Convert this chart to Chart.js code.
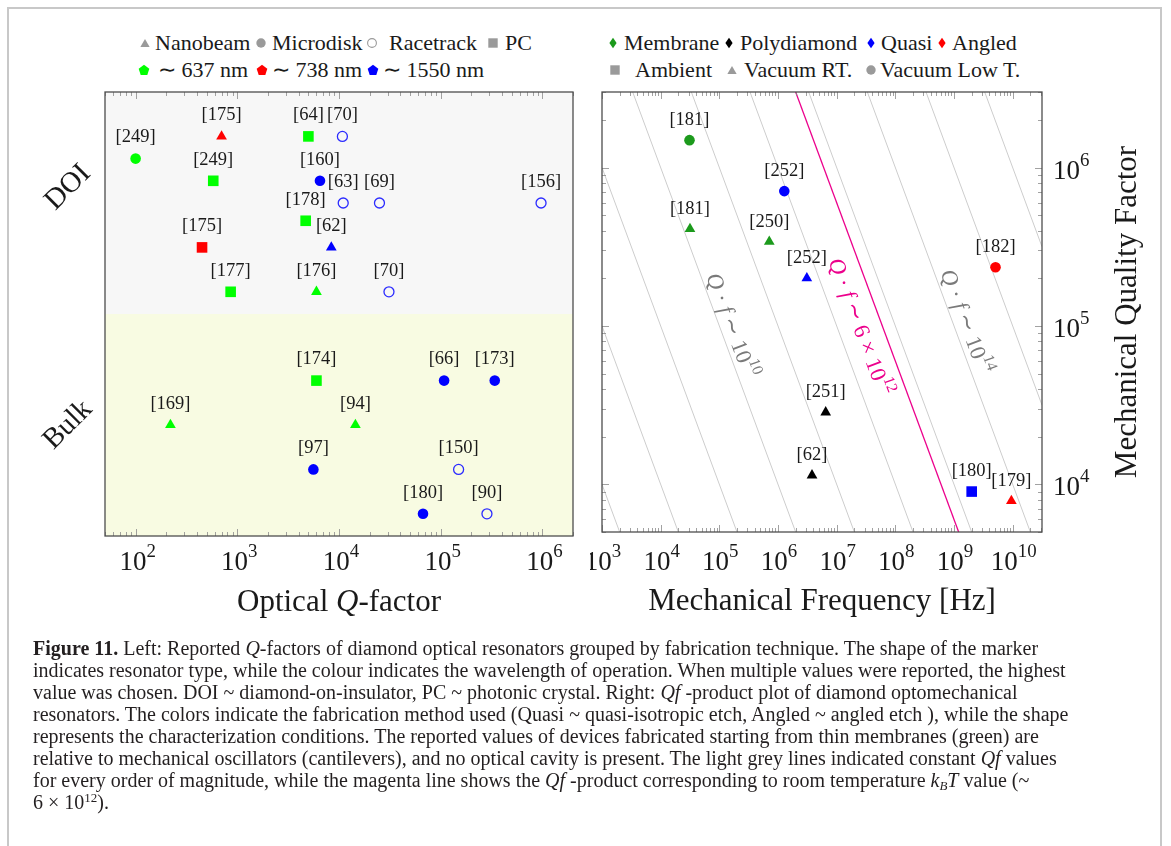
<!DOCTYPE html>
<html>
<head>
<meta charset="utf-8">
<script src="https://cdn.jsdelivr.net/npm/chart.js@4.4.0/dist/chart.umd.min.js"></script>
<style>
  html, body { margin: 0; padding: 0; background: #fff; }
  body { width: 1171px; height: 846px; position: relative; overflow: hidden;
         font-family: 'Liberation Serif', 'Times New Roman', serif; color: #1a1a1a; }
  #frame { position: absolute; left: 7px; top: 7px; width: 1155px; height: 900px;
           border: 2px solid #c8c8c8; box-sizing: border-box; }
  .lg { position: absolute; font-size: 22px; line-height: 26px; white-space: nowrap; color: #1a1a1a; }
  .mk { position: absolute; width: 14px; height: 14px; }
  #cvL { position: absolute; left: 0; top: 0; }
  #cvR { position: absolute; left: 590px; top: 0; }
  #caption { position: absolute; left: 33px; top: 637px; font-size: 20px; line-height: 22px;
             white-space: nowrap; color: #231f20; }
  #caption sub { font-size: 13px; vertical-align: -3px; line-height: 0; }
  #caption sup { font-size: 13px; vertical-align: 7px; line-height: 0; }
</style>
</head>
<body>
<div id="frame"></div>
<div id="legends"></div>
<canvas id="cvL" width="590" height="640"></canvas>
<canvas id="cvR" width="581" height="640"></canvas>
<div id="caption">
<b>Figure 11.</b> Left: Reported <i>Q</i>-factors of diamond optical resonators grouped by fabrication technique. The shape of the marker<br>
indicates resonator type, while the colour indicates the wavelength of operation. When multiple values were reported, the highest<br>
value was chosen. DOI ~ diamond-on-insulator, PC ~ photonic crystal. Right: <i>Qf</i> -product plot of diamond optomechanical<br>
resonators. The colors indicate the fabrication method used (Quasi ~ quasi-isotropic etch, Angled ~ angled etch ), while the shape<br>
represents the characterization conditions. The reported values of devices fabricated starting from thin membranes (green) are<br>
relative to mechanical oscillators (cantilevers), and no optical cavity is present. The light grey lines indicated constant <i>Qf</i> values<br>
for every order of magnitude, while the magenta line shows the <i>Qf</i> -product corresponding to room temperature <i>k<sub>B</sub>T</i> value (~<br>
6 × 10<sup>12</sup>).
</div>

<script>
// ================= Left panel: optical Q-factor of diamond resonators =================
const leftCategories = ['DOI', 'Bulk'];
const leftXTicks = [1e2, 1e3, 1e4, 1e5, 1e6];

// Nanobeam, ~738 nm
const nanobeam738Q   = [700];
const nanobeam738Row = [9.0];
const nanobeam738Ref = ['[175]'];
// Photonic crystal, ~637 nm
const pc637Q   = [5000, 580, 4700, 860, 6000];
const pc637Row = [9.0, 8.0, 7.1, 5.5, 3.5];
const pc637Ref = ['[64]', '[249]', '[178]', '[177]', '[174]'];
// Racetrack, ~1550 nm
const racetrack1550Q   = [1.08e4, 1.1e4, 2.5e4, 9.7e5, 3.1e4, 1.5e5, 2.85e5];
const racetrack1550Row = [9.0, 7.5, 7.5, 7.5, 5.5, 1.5, 0.5];
const racetrack1550Ref = ['[70]', '[63]', '[69]', '[156]', '[70]', '[150]', '[90]'];
// Microdisk, ~637 nm
const microdisk637Q   = [100];
const microdisk637Row = [8.5];
const microdisk637Ref = ['[249]'];
// Microdisk, ~1550 nm
const microdisk1550Q   = [6500, 1.08e5, 3.4e5, 5600, 6.7e4];
const microdisk1550Row = [8.0, 3.5, 3.5, 1.5, 0.5];
const microdisk1550Ref = ['[160]', '[66]', '[173]', '[97]', '[180]'];
// Photonic crystal, ~738 nm
const pc738Q   = [450];
const pc738Row = [6.5];
const pc738Ref = ['[175]'];
// Nanobeam, ~1550 nm
const nanobeam1550Q   = [8400];
const nanobeam1550Row = [6.5];
const nanobeam1550Ref = ['[62]'];
// Nanobeam, ~637 nm
const nanobeam637Q   = [6000, 220, 1.45e4];
const nanobeam637Row = [5.5, 2.5, 2.5];
const nanobeam637Ref = ['[176]', '[169]', '[94]'];

// ================= Right panel: Qf-product of optomechanical resonators =================
const rightXTicks = [1e3, 1e4, 1e5, 1e6, 1e7, 1e8, 1e9, 1e10];
const rightYTicks = [1e4, 1e5, 1e6];

const membraneLowTF = [3.1e4];        const membraneLowTQ = [1.49e6];      const membraneLowTRef = ['[181]'];
const membraneRTF   = [3.16e4, 7.1e5]; const membraneRTQ  = [4.1e5, 3.4e5]; const membraneRTRef  = ['[181]', '[250]'];
const quasiLowTF    = [1.28e6];       const quasiLowTQ    = [7.1e5];       const quasiLowTRef    = ['[252]'];
const quasiRTF      = [3.1e6];        const quasiRTQ      = [2.0e5];       const quasiRTRef      = ['[252]'];
const quasiAmbF     = [2.0e9];        const quasiAmbQ     = [9000];        const quasiAmbRef     = ['[180]'];
const angledLowTF   = [5.1e9];        const angledLowTQ   = [2.35e5];      const angledLowTRef   = ['[182]'];
const angledRTF     = [9.5e9];        const angledRTQ     = [7850];        const angledRTRef     = ['[179]'];
const polyRTF       = [6.5e6, 3.8e6]; const polyRTQ       = [2.85e4, 1.14e4]; const polyRTRef    = ['[251]', '[62]'];

// constant Qf guide lines (one per decade) and the room-temperature kBT/h value
const qfLevels = [1e7, 1e8, 1e9, 1e10, 1e11, 1e12, 1e13, 1e14, 1e15, 1e16];
const qfRoomT = 6e12;

// legend texts
const leftShapeNames = ['Nanobeam', 'Microdisk', 'Racetrack', 'PC'];
const leftWaveNames = ['∼ 637 nm', '∼ 738 nm', '∼ 1550 nm'];
const rightMethodNames = ['Membrane', 'Polydiamond', 'Quasi', 'Angled'];
const rightConditionNames = ['Ambient', 'Vacuum RT.', 'Vacuum Low T.'];

// ================= styling =================
const FONT = "'Liberation Serif','Times New Roman',serif";
const LIME = '#00ff00', RED = '#ff0000', BLUE = '#0000ff';
const DKGREEN = '#1c9a1c', BLACK = '#000000', GREY = '#9a9a9a';
const MAGENTA = '#ec008c';
const TICK_SIZE = 27, TITLE_SIZE = 31;
const SHAPES = {
  tri:  { pointStyle: 'triangle', pointRadius: 6.2 },
  circ: { pointStyle: 'circle',   pointRadius: 5.3 },
  rect: { pointStyle: 'rect',     pointRadius: 7.5 }
};

function markerSet(label, xs, ys, refs, shape, color, hollow) {
  return Object.assign({
    label, refs,
    data: xs.map((x, i) => ({ x, y: ys[i] })),
    backgroundColor: hollow ? 'rgba(0,0,0,0)' : color,
    borderColor: hollow ? '#2b2bff' : color,
    borderWidth: hollow ? 1.3 : 0,
    order: 1
  }, SHAPES[shape], hollow ? { pointRadius: 5.0 } : {});
}

// ---------- text helpers (mixed italic / superscript runs) ----------
function runFont(r, size) {
  const s = r.sup ? size * 0.7 : size;
  return (r.it ? 'italic ' : '') + s + 'px ' + FONT;
}
function runsWidth(ctx, runs, size) {
  let w = 0;
  for (const r of runs) { ctx.font = runFont(r, size); w += ctx.measureText(r.t).width; }
  return w;
}
function drawRuns(ctx, runs, x, y, size, align) {
  const total = runsWidth(ctx, runs, size);
  let cx = align === 'center' ? x - total / 2 : (align === 'right' ? x - total : x);
  ctx.textAlign = 'left';
  ctx.textBaseline = 'alphabetic';
  for (const r of runs) {
    ctx.font = runFont(r, size);
    ctx.fillText(r.t, cx, y + (r.sup ? -size * 0.48 : 0));
    cx += ctx.measureText(r.t).width;
  }
}
function powRuns(v) {
  return [{ t: '10' }, { t: String(Math.round(Math.log10(v))), sup: true }];
}
function logTicks(min, max) {
  const out = [];
  for (let e = Math.floor(Math.log10(min)); e <= Math.ceil(Math.log10(max)); e++) {
    for (let m = 1; m <= 9; m++) {
      const v = m * Math.pow(10, e);
      if (v >= min * 0.9999 && v <= max * 1.0001) out.push({ v, major: m === 1 });
    }
  }
  return out;
}
function drawFrame(ctx, a) {
  ctx.save();
  ctx.strokeStyle = '#4d4d4d';
  ctx.lineWidth = 1.3;
  ctx.strokeRect(a.left, a.top, a.right - a.left, a.bottom - a.top);
  ctx.restore();
}
function drawXTicks(ctx, scale, a) {
  ctx.save();
  ctx.strokeStyle = '#8a8a8a';
  ctx.lineWidth = 0.8;
  ctx.beginPath();
  for (const t of logTicks(scale.min, scale.max)) {
    const px = Math.round(scale.getPixelForValue(t.v)) + 0.5;
    const len = t.major ? 7 : 4;
    ctx.moveTo(px, a.bottom); ctx.lineTo(px, a.bottom - len);
    ctx.moveTo(px, a.top);    ctx.lineTo(px, a.top + len);
  }
  ctx.stroke();
  ctx.restore();
}
function drawYTicks(ctx, scale, a) {
  ctx.save();
  ctx.strokeStyle = '#8a8a8a';
  ctx.lineWidth = 0.8;
  ctx.beginPath();
  for (const t of logTicks(scale.min, scale.max)) {
    const py = Math.round(scale.getPixelForValue(t.v)) + 0.5;
    const len = t.major ? 7 : 4;
    ctx.moveTo(a.left, py);  ctx.lineTo(a.left + len, py);
    ctx.moveTo(a.right, py); ctx.lineTo(a.right - len, py);
  }
  ctx.stroke();
  ctx.restore();
}

// ---------- plugins ----------
const refLabels = {
  id: 'refLabels',
  afterDatasetsDraw(chart, args, opts) {
    const ctx = chart.ctx;
    ctx.save();
    ctx.fillStyle = '#1a1a1a';
    ctx.font = '18.5px ' + FONT;
    ctx.textAlign = 'center';
    ctx.textBaseline = 'middle';
    chart.data.datasets.forEach((ds, i) => {
      if (!ds.refs) return;
      chart.getDatasetMeta(i).data.forEach((el, j) => {
        ctx.fillText(ds.refs[j], el.x, el.y - opts.gap);
      });
    });
    ctx.restore();
  }
};

const leftBands = {
  id: 'leftBands',
  beforeDatasetsDraw(chart) {
    const { ctx, chartArea: a, scales: { y } } = chart;
    const mid = y.getPixelForValue(5);
    ctx.save();
    ctx.fillStyle = '#f7f7f7';
    ctx.fillRect(a.left, a.top, a.right - a.left, mid - a.top);
    ctx.fillStyle = '#f8fbe2';
    ctx.fillRect(a.left, mid, a.right - a.left, a.bottom - mid);
    ctx.restore();
  }
};

const leftAxes = {
  id: 'leftAxes',
  afterDraw(chart) {
    const { ctx, chartArea: a, scales: { x, y } } = chart;
    drawXTicks(ctx, x, a);
    drawFrame(ctx, a);
    ctx.save();
    ctx.fillStyle = '#1a1a1a';
    for (const v of leftXTicks) drawRuns(ctx, powRuns(v), x.getPixelForValue(v) + 2, 570, TICK_SIZE, 'center');
    drawRuns(ctx, [{ t: 'Optical ' }, { t: 'Q', it: true }, { t: '-factor' }], (a.left + a.right) / 2, 611, TITLE_SIZE, 'center');
    // rotated group labels
    const groupRows = { DOI: 7.85, Bulk: 2.5 };
    ctx.font = '29px ' + FONT;
    ctx.textAlign = 'center';
    ctx.textBaseline = 'middle';
    for (const name of leftCategories) {
      ctx.save();
      ctx.translate(a.left - 37, y.getPixelForValue(groupRows[name]));
      ctx.rotate(-Math.PI / 4);
      ctx.fillText(name, 0, 0);
      ctx.restore();
    }
    ctx.restore();
  }
};

const rightAxes = {
  id: 'rightAxes',
  afterDraw(chart) {
    const { ctx, chartArea: a, scales: { x, y } } = chart;
    drawXTicks(ctx, x, a);
    drawYTicks(ctx, y, a);
    drawFrame(ctx, a);
    ctx.save();
    ctx.fillStyle = '#1a1a1a';
    for (const v of rightXTicks) drawRuns(ctx, powRuns(v), x.getPixelForValue(v) + 1, 570, TICK_SIZE, 'center');
    for (const v of rightYTicks) drawRuns(ctx, powRuns(v), a.right + 11, y.getPixelForValue(v) + 11, TICK_SIZE, 'left');
    drawRuns(ctx, [{ t: 'Mechanical Frequency [Hz]' }], (a.left + a.right) / 2, 610, TITLE_SIZE, 'center');
    ctx.save();
    ctx.translate(a.right + 94, (a.top + a.bottom) / 2);
    ctx.rotate(-Math.PI / 2);
    drawRuns(ctx, [{ t: 'Mechanical Quality Factor' }], 0, 0, TITLE_SIZE, 'center');
    ctx.restore();
    ctx.restore();
  }
};

// labels written along the constant-Qf lines
const qfLabels = {
  id: 'qfLabels',
  afterDatasetsDraw(chart) {
    const { ctx, scales: { x, y } } = chart;
    const specs = [
      { C: 1e10, atQ: 9.5e4, d: 12, color: '#7a7a7a',
        runs: [{ t: 'Q', it: true }, { t: ' · ' }, { t: 'f', it: true }, { t: ' ∼ 10' }, { t: '10', sup: true }] },
      { C: qfRoomT, atQ: 1.1e5, d: -21, color: MAGENTA,
        runs: [{ t: 'Q', it: true }, { t: ' · ' }, { t: 'f', it: true }, { t: ' ∼ 6 × 10' }, { t: '12', sup: true }] },
      { C: 1e14, atQ: 1e5, d: 13, color: '#7a7a7a',
        runs: [{ t: 'Q', it: true }, { t: ' · ' }, { t: 'f', it: true }, { t: ' ∼ 10' }, { t: '14', sup: true }] }
    ];
    ctx.save();
    for (const s of specs) {
      const ax = x.getPixelForValue(s.C / s.atQ), ay = y.getPixelForValue(s.atQ);
      const bx = x.getPixelForValue(s.C / (s.atQ / 10)), by = y.getPixelForValue(s.atQ / 10);
      const ang = Math.atan2(by - ay, bx - ax);
      const nx = Math.sin(ang), ny = -Math.cos(ang);
      ctx.save();
      ctx.translate(ax + nx * s.d, ay + ny * s.d);
      ctx.rotate(ang);
      ctx.fillStyle = s.color;
      drawRuns(ctx, s.runs, 0, 22 * 0.33, 22.5, 'center');
      ctx.restore();
    }
    ctx.restore();
  }
};

function baseOptions() {
  return {
    responsive: false,
    animation: false,
    events: [],
    plugins: { legend: { display: false }, tooltip: { enabled: false } }
  };
}
const hidden = { ticks: { display: false }, grid: { display: false }, border: { display: false } };

// ---------- left chart ----------
const leftOpts = baseOptions();
leftOpts.layout = { padding: { top: 92, right: 17, left: 0, bottom: 0 } };
leftOpts.plugins.refLabels = { gap: 21 };
leftOpts.scales = {
  x: Object.assign({ type: 'logarithmic', min: 50, max: 2e6, position: 'bottom',
                     afterFit: s => { s.height = 104; } }, hidden),
  y: Object.assign({ type: 'linear', min: 0, max: 10, position: 'left',
                     afterFit: s => { s.width = 105; } }, hidden)
};
new Chart(document.getElementById('cvL'), {
  type: 'scatter',
  data: {
    datasets: [
      markerSet('Nanobeam 738', nanobeam738Q, nanobeam738Row, nanobeam738Ref, 'tri', RED),
      markerSet('PC 637', pc637Q, pc637Row, pc637Ref, 'rect', LIME),
      markerSet('Racetrack 1550', racetrack1550Q, racetrack1550Row, racetrack1550Ref, 'circ', BLUE, true),
      markerSet('Microdisk 637', microdisk637Q, microdisk637Row, microdisk637Ref, 'circ', LIME),
      markerSet('Microdisk 1550', microdisk1550Q, microdisk1550Row, microdisk1550Ref, 'circ', BLUE),
      markerSet('PC 738', pc738Q, pc738Row, pc738Ref, 'rect', RED),
      markerSet('Nanobeam 1550', nanobeam1550Q, nanobeam1550Row, nanobeam1550Ref, 'tri', BLUE),
      markerSet('Nanobeam 637', nanobeam637Q, nanobeam637Row, nanobeam637Ref, 'tri', LIME)
    ]
  },
  options: leftOpts,
  plugins: [leftBands, leftAxes, refLabels]
});

// ---------- right chart ----------
const fMin = 1e3, fMax = 3.16e10;
const qfLine = (C, color, width) => ({
  label: 'Qf = ' + C,
  data: [{ x: fMin, y: C / fMin }, { x: fMax, y: C / fMax }],
  showLine: true, borderColor: color, borderWidth: width, pointRadius: 0, order: 2
});
const rightOpts = baseOptions();
rightOpts.layout = { padding: { top: 92, right: 0, left: 12, bottom: 0 } };
rightOpts.plugins.refLabels = { gap: 20 };
rightOpts.scales = {
  x: Object.assign({ type: 'logarithmic', min: fMin, max: fMax, position: 'bottom',
                     afterFit: s => { s.height = 108; } }, hidden),
  y: Object.assign({ type: 'logarithmic', min: 5e3, max: 3e6, position: 'right',
                     afterFit: s => { s.width = 129; } }, hidden)
};
new Chart(document.getElementById('cvR'), {
  type: 'scatter',
  data: {
    datasets: [
      ...qfLevels.map(C => qfLine(C, '#cdcdcd', 1)),
      qfLine(qfRoomT, MAGENTA, 1.3),
      markerSet('Membrane low T', membraneLowTF, membraneLowTQ, membraneLowTRef, 'circ', DKGREEN),
      markerSet('Membrane RT', membraneRTF, membraneRTQ, membraneRTRef, 'tri', DKGREEN),
      markerSet('Quasi low T', quasiLowTF, quasiLowTQ, quasiLowTRef, 'circ', BLUE),
      markerSet('Quasi RT', quasiRTF, quasiRTQ, quasiRTRef, 'tri', BLUE),
      markerSet('Quasi ambient', quasiAmbF, quasiAmbQ, quasiAmbRef, 'rect', BLUE),
      markerSet('Angled low T', angledLowTF, angledLowTQ, angledLowTRef, 'circ', RED),
      markerSet('Angled RT', angledRTF, angledRTQ, angledRTRef, 'tri', RED),
      markerSet('Polydiamond RT', polyRTF, polyRTQ, polyRTRef, 'tri', BLACK)
    ]
  },
  options: rightOpts,
  plugins: [qfLabels, rightAxes, refLabels]
});

// ---------- legends ----------
function svgShape(shape, fill) {
  let s = '';
  if (shape === 'tri') s = `<polygon points="7,3 11.65,11 2.35,11" fill="${fill}"/>`;
  if (shape === 'circ') s = `<circle cx="7" cy="7" r="4.7" fill="${fill}"/>`;
  if (shape === 'ring') s = `<circle cx="7" cy="7" r="4.4" fill="none" stroke="${fill}" stroke-width="1.1"/>`;
  if (shape === 'rect') s = `<rect x="2.3" y="2.3" width="9.4" height="9.4" fill="${fill}"/>`;
  if (shape === 'diamond') s = `<polygon points="7,1.8 10.6,7 7,12.2 3.4,7" fill="${fill}"/>`;
  if (shape === 'pent') {
    const p = [];
    for (let k = 0; k < 5; k++) {
      const t = -Math.PI / 2 + k * 2 * Math.PI / 5;
      p.push((7 + 5.6 * Math.cos(t)).toFixed(2) + ',' + (7.4 + 5.6 * Math.sin(t)).toFixed(2));
    }
    s = `<polygon points="${p.join(' ')}" fill="${fill}"/>`;
  }
  return `<svg width="14" height="14" viewBox="0 0 14 14">${s}</svg>`;
}
const legendRows = [
  { cy: 43, names: leftShapeNames, marks: [['tri', GREY], ['circ', GREY], ['ring', GREY], ['rect', GREY]],
    mx: [145, 261, 372, 493], tx: [155, 272, 389, 505] },
  { cy: 70, names: leftWaveNames, marks: [['pent', LIME], ['pent', RED], ['pent', BLUE]],
    mx: [144, 262, 373], tx: [158, 272, 383] },
  { cy: 43, names: rightMethodNames, marks: [['diamond', DKGREEN], ['diamond', BLACK], ['diamond', BLUE], ['diamond', RED]],
    mx: [613, 729, 871, 942], tx: [624, 740, 881, 952] },
  { cy: 70, names: rightConditionNames, marks: [['rect', GREY], ['tri', GREY], ['circ', GREY]],
    mx: [615, 732, 871], tx: [635, 744, 880] }
];
const lg = document.getElementById('legends');
let html = '';
for (const row of legendRows) {
  row.names.forEach((n, i) => {
    html += `<span class="mk" style="left:${row.mx[i] - 7}px;top:${row.cy - 7}px">${svgShape(row.marks[i][0], row.marks[i][1])}</span>`;
    html += `<span class="lg" style="left:${row.tx[i]}px;top:${row.cy - 13.5}px">${n}</span>`;
  });
}
lg.innerHTML = html;
</script>
</body>
</html>
